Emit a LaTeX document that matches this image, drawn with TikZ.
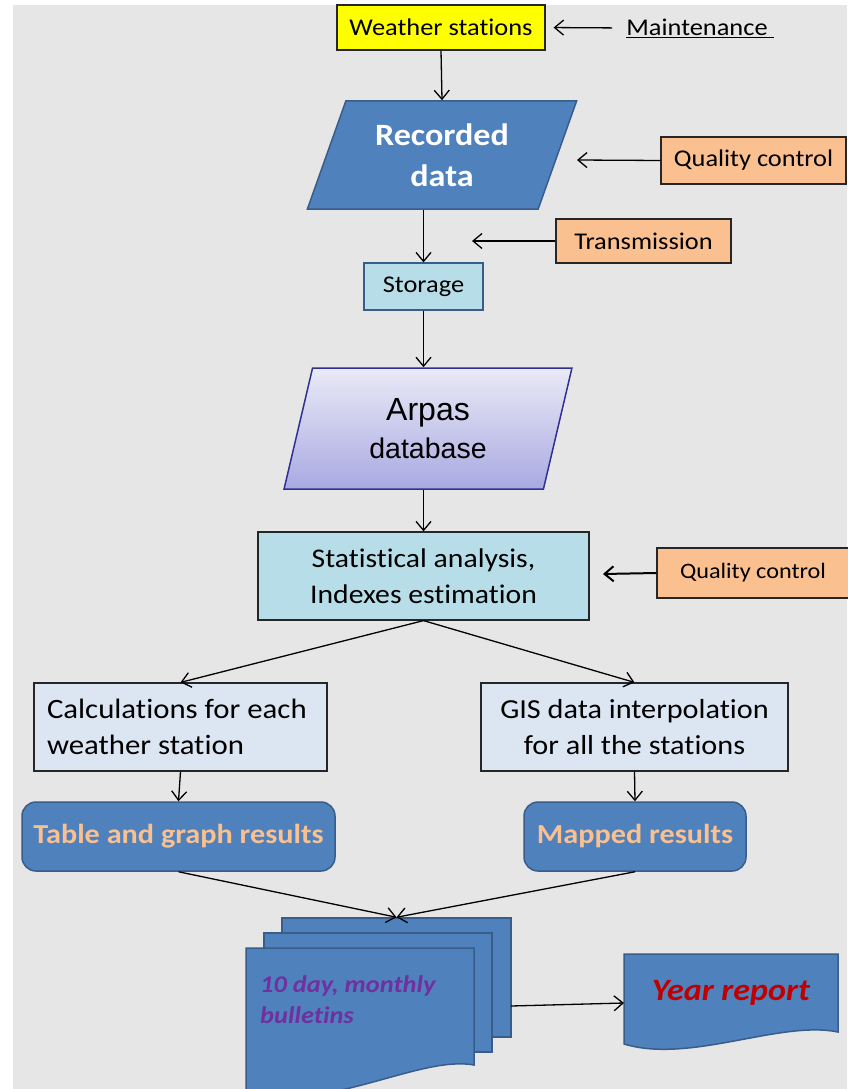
\documentclass[tikz,border=0pt]{standalone}
\usepackage{fontspec}
\setmainfont{Carlito}[FakeStretch=1.1,Ligatures=NoCommon]
\newfontfamily\arialfont{Liberation Sans}
\usetikzlibrary{arrows.meta,calc,positioning,shapes.geometric}

\definecolor{bgray}{HTML}{E6E6E6}
\definecolor{wsyellow}{HTML}{FFFF00}
\definecolor{boxblue}{HTML}{4F81BD}
\definecolor{edgeblue}{HTML}{385D8A}
\definecolor{peach}{HTML}{FAC090}
\definecolor{paleblue}{HTML}{B7DEE8}
\definecolor{greyblue}{HTML}{DCE6F2}
\definecolor{lavtop}{HTML}{EAEAF7}
\definecolor{lavbot}{HTML}{A9A9E2}
\definecolor{navyedge}{HTML}{2E3192}
\definecolor{bulpurple}{HTML}{7030A0}
\definecolor{repred}{HTML}{C00000}

\begin{document}
\begin{tikzpicture}[x=1pt,y=-1pt,
  box/.style={draw=black!85,line width=1.2pt,inner sep=0pt,align=center,font=\fontsize{24}{28}\selectfont},
  para/.style={trapezium,trapezium stretches=true,line width=1.5pt,inner sep=0pt,align=center},
  res/.style={draw=edgeblue,fill=boxblue,line width=1.5pt,rounded corners=14pt,text=peach,font=\bfseries\fontsize{27.5}{32}\selectfont},
  page/.style={draw=edgeblue,fill=boxblue,line width=1.5pt,inner sep=0pt},
  arr/.style={-{Straight Barb[length=9pt,width=15pt]},line width=1.3pt}]
  \useasboundingbox (0,0) rectangle (847,1089);
  \fill[white] (0,0) rectangle (847,1089);
  \fill[bgray] (13,5) rectangle (847,1089);
  % top part
  \node[box,fill=wsyellow,minimum width=208,minimum height=45] (ws) at (441,27.5) {Weather stations};
  \node[font=\fontsize{24}{28}\selectfont,inner sep=0pt] (mnt) at (700,28) {\underline{Maintenance\ }};
  \node[para,draw=edgeblue,fill=boxblue,trapezium left angle=67,trapezium right angle=113,
        minimum width=270,minimum height=108,text=white,font=\bfseries\fontsize{31}{41}\selectfont] (rec) at (442,155) {Recorded\\data};
  \node[box,fill=peach,minimum width=185,minimum height=47] (qc1) at (753.5,160.5) {Quality control};
  \node[box,fill=peach,minimum width=175,minimum height=44] (trn) at (643.5,241) {Transmission};
  \node[box,fill=paleblue,draw=edgeblue,minimum width=119,minimum height=47] (sto) at (423.5,286.5) {Storage};
  \node[para,draw=navyedge,top color=lavtop,bottom color=lavbot,trapezium left angle=76.5,trapezium right angle=103.5,
        minimum width=288,minimum height=121,font=\arialfont\fontsize{28.5}{38}\selectfont] (db) at (428,428.5) {{\fontsize{32}{38}\selectfont Arpas}\\database};
  \coordinate (qc1tip) at (577,160);
  \coordinate (trntip) at (472,241);
  \draw[arr,shorten <=14pt,shorten >=8pt] (mnt.west) -- (ws.east);
  \draw[arr] (ws.south) -- (rec.north);
  \draw[arr] (qc1.west) -- (qc1tip);
  \draw[arr] (trn.west) -- (trntip);
  \draw[arr] (sto.north |- rec.south) -- (sto.north);
  \draw[arr] (sto.south) -- (db.north -| sto.south);
  % analysis
  \node[box,fill=paleblue,minimum width=331,minimum height=88,font=\fontsize{27}{36}\selectfont] (sta) at (423.5,576) {Statistical analysis,\\Indexes estimation};
  \node[box,fill=peach,minimum width=192,minimum height=50,font=\fontsize{22}{26}\selectfont] (qc2) at (753,573) {Quality control};
  \node[box,fill=greyblue,minimum width=293,minimum height=88,align=flush left,text width=267,font=\fontsize{28}{36}\selectfont] (calc) at (180.5,727) {Calculations for each\\weather station};
  \node[box,fill=greyblue,minimum width=307,minimum height=88,font=\fontsize{27.5}{36}\selectfont] (gis) at (634.5,727) {GIS data interpolation\\for all the stations};
  \node[res,minimum width=313,minimum height=69] (tab) at (178.5,836.5) {Table and graph results};
  \node[res,minimum width=222,minimum height=69] (map) at (635,836.5) {Mapped results};
  \coordinate (qc2tip) at (603,574);
  \draw[arr] (db.south -| sta.north) -- (sta.north);
  \draw[arr,line width=2pt] (qc2.west) -- (qc2tip);
  \draw[arr] (sta.south) -- (calc.north);
  \draw[arr] (sta.south) -- (gis.north);
  \draw[arr] (calc.south) -- (tab.north);
  \draw[arr] (gis.south) -- (map.north);
  % bulletins and report
  \node[page,minimum width=229,minimum height=119] (bul) at (396.5,977.5) {};
  \node[page,minimum width=228,minimum height=119] (bulmid) at (378,992.5) {};
  \draw[page] (246,948) -- (474,948) -- (474,1065) .. controls (420,1055) and (330,1112) .. (246,1094) -- cycle;
  \node[font=\bfseries\itshape\fontsize{24}{31}\selectfont,text=bulpurple,align=flush left,anchor=north west,inner sep=0pt] (bultxt) at (260,975) {10 day, monthly\\bulletins};
  \draw[page] (624,954) -- (838,954) -- (838,1032) .. controls (780,1020) and (690,1064) .. (624,1044) -- cycle;
  \node[font=\bfseries\itshape\fontsize{31}{36}\selectfont,text=repred] (yr) at (731,993) {Year report};
  \coordinate (bulR) at (511,1006);
  \coordinate (yrL) at (624,1003);
  \draw[arr] (tab.south) -- (bul.north);
  \draw[arr] (map.south) -- (bul.north);
  \draw[arr] (bulR) -- (yrL);
\end{tikzpicture}
\end{document}
